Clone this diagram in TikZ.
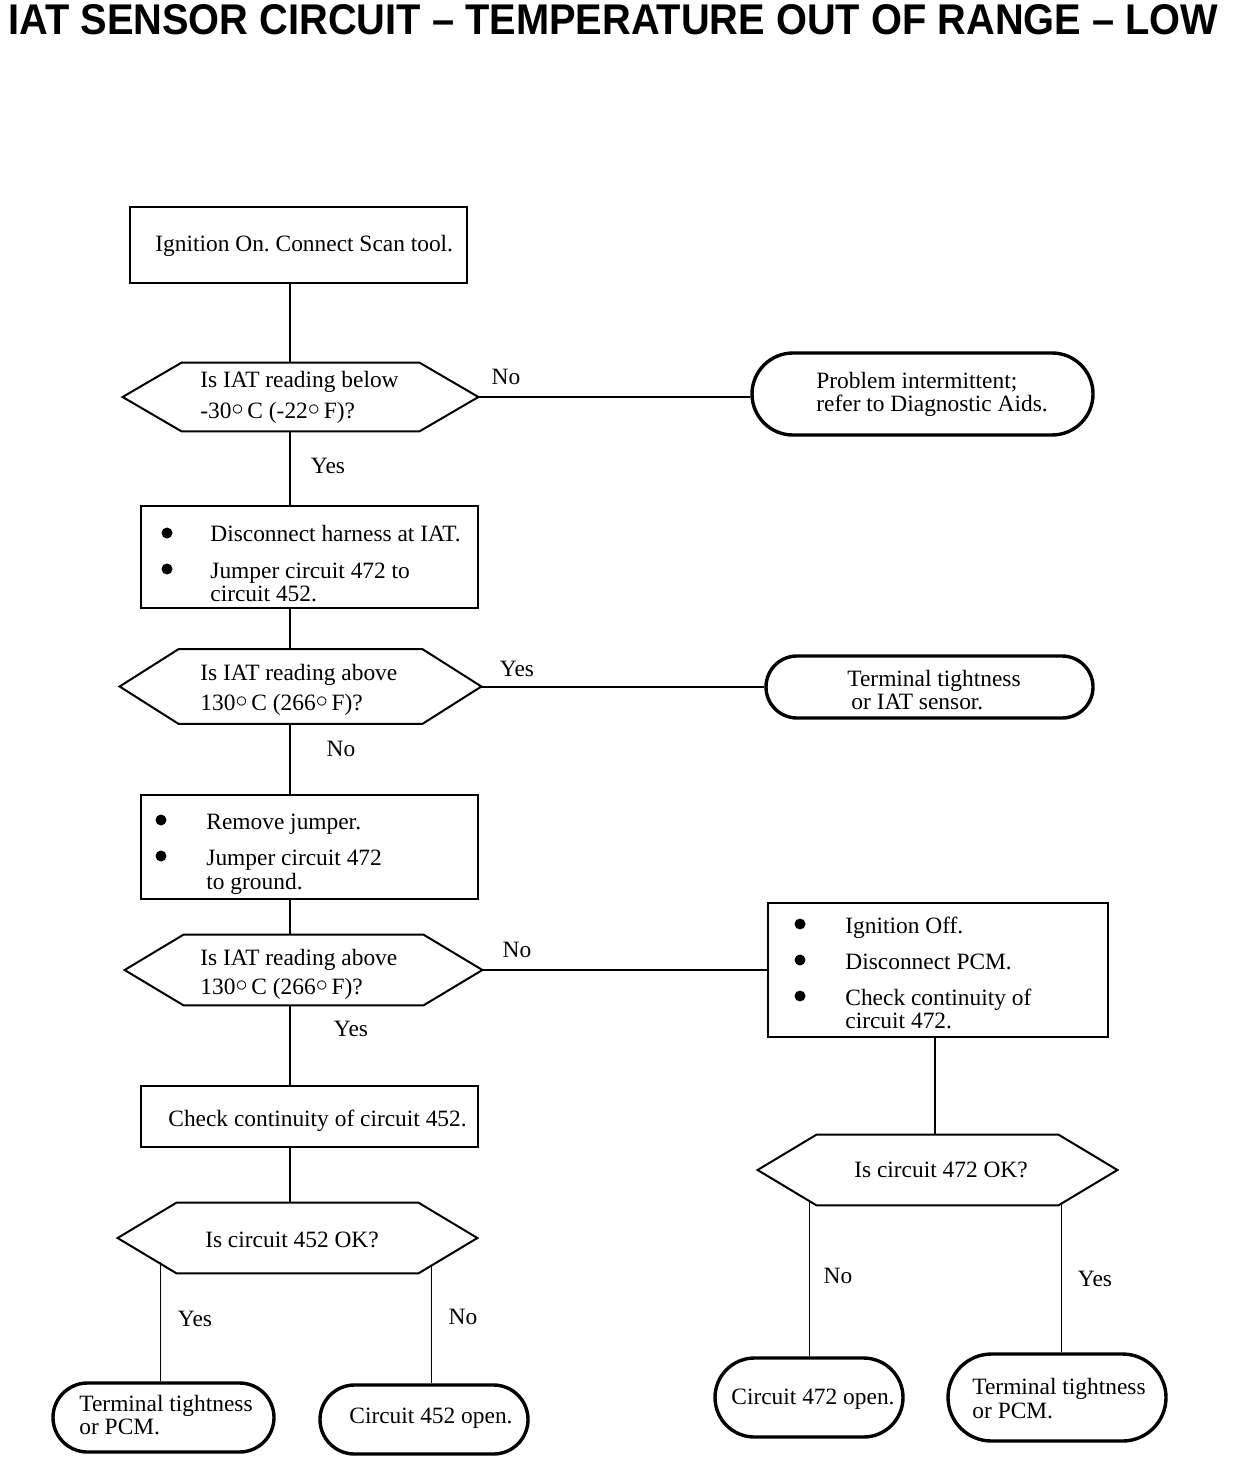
\documentclass[tikz,border=0pt]{standalone}
\usepackage{graphicx}
\usepackage{fontspec}
\setmainfont{Liberation Serif}
\newfontfamily\titlefont{Liberation Sans}
\usetikzlibrary{shapes.misc,calc}
\newcommand\dg{\raisebox{.2ex}{$\circ$}}
\tikzset{
  every node/.style={font=\fontsize{11.7}{14}\selectfont\frenchspacing},
  box/.style 2 args={draw, line width=1pt, rectangle, minimum width=#1*0.5pt, minimum height=#2*0.5pt, inner sep=0pt},
  hexa/.style 2 args={rectangle, minimum width=#1*0.5pt, minimum height=#2*0.5pt, inner sep=0pt},
  term/.style 2 args={rounded rectangle, draw, line width=1.7pt, minimum width=#1*0.5pt, minimum height=#2*0.5pt, inner sep=0pt},
  tx/.style={anchor=base west, inner sep=0pt, text height=8pt, text depth=2pt},
  lbl/.style={anchor=base, inner sep=0pt, text height=8pt, text depth=2pt},
  bul/.style={circle, fill, inner sep=0pt, minimum size=5.5pt},
  conn/.style={line width=1pt},
  branch/.style={line width=0.5pt},
  hexline/.style={line width=1pt, line join=miter}
}
\newcommand\hexdraw[1]{\draw[hexline] (#1.west) -- ([xshift=29.5pt]#1.north west) -- ([xshift=-29.5pt]#1.north east) -- (#1.east) -- ([xshift=-29.5pt]#1.south east) -- ([xshift=29.5pt]#1.south west) -- cycle;}
\begin{document}
\begin{tikzpicture}[x=0.5pt,y=-0.5pt]
\useasboundingbox[fill=white] (0,0) rectangle (1232,1460);
% title
\node[anchor=base west, inner sep=0pt] (title) at (8,35) {\resizebox{605pt}{15pt}{\titlefont\bfseries IAT SENSOR CIRCUIT – TEMPERATURE OUT OF RANGE – LOW}};
% box 1
\node[box={337}{76}] (b1) at (298.5,245) {};
\node[tx] (b1t) at (155,252) {Ignition On. Connect Scan tool.};
% hex 1
\node[hexa={355}{68}] (h1) at (300.5,397) {};
\hexdraw{h1}
\node[tx] (h1a) at (200,387) {Is IAT reading below};
\node[tx] (h1b) at (200,418) {-30\dg\,C (-22\dg\,F)?};
% terminal 1
\node[term={341}{82}] (t1) at (922.5,394) {};
\node[tx] (t1a) at (816,388) {Problem intermittent;};
\node[tx] (t1b) at (816,411) {refer to Diagnostic Aids.};
% box 2
\node[box={337}{102}] (b2) at (309.5,557) {};
\node[bul] (b2d1) at (167,533) {};
\node[bul] (b2d2) at (167,569) {};
\node[tx] (b2a) at (210,541) {Disconnect harness at IAT.};
\node[tx] (b2b) at (210,578) {Jumper circuit 472 to};
\node[tx] (b2c) at (210,601) {circuit 452.};
% hex 2
\node[hexa={361}{74}] (h2) at (300.5,686.5) {};
\hexdraw{h2}
\node[tx] (h2a) at (200,680) {Is IAT reading above};
\node[tx] (h2b) at (200,710) {130\dg\,C (266\dg\,F)?};
% terminal 2
\node[term={327}{62}] (t2) at (929.5,687) {};
\node[tx] (t2a) at (847,686) {Terminal tightness};
\node[tx] (t2b) at (851,709) {or IAT sensor.};
% box 3
\node[box={337}{104}] (b3) at (309.5,847) {};
\node[bul] (b3d1) at (161,820) {};
\node[bul] (b3d2) at (161,856) {};
\node[tx] (b3a) at (206,829) {Remove jumper.};
\node[tx] (b3b) at (206,865) {Jumper circuit 472};
\node[tx] (b3c) at (206,889) {to ground.};
% hex 3
\node[hexa={357}{70}] (h3) at (303.5,970) {};
\hexdraw{h3}
\node[tx] (h3a) at (200,965) {Is IAT reading above};
\node[tx] (h3b) at (200,994) {130\dg\,C (266\dg\,F)?};
% box 4
\node[box={340}{134}] (b4) at (938,970) {};
\node[bul] (b4d1) at (800,924) {};
\node[bul] (b4d2) at (800,960) {};
\node[bul] (b4d3) at (800,996) {};
\node[tx] (b4a) at (845,933) {Ignition Off.};
\node[tx] (b4b) at (845,969) {Disconnect PCM.};
\node[tx] (b4c) at (845,1005) {Check continuity of};
\node[tx] (b4e) at (845,1028) {circuit 472.};
% box 5
\node[box={337}{61}] (b5) at (309.5,1116.5) {};
\node[tx] (b5t) at (168,1126) {Check continuity of circuit 452.};
% hex 4
\node[hexa={359}{70}] (h4) at (297.5,1238) {};
\hexdraw{h4}
\node[lbl] (h4t) at (292,1247) {Is circuit 452 OK?};
% hex 5
\node[hexa={359}{70}] (h5) at (937.5,1170) {};
\hexdraw{h5}
\node[lbl] (h5t) at (941,1177) {Is circuit 472 OK?};
% terminals bottom
\node[term={221}{69}] (t3) at (163.5,1417.5) {};
\node[tx] (t3a) at (79,1411) {Terminal tightness};
\node[tx] (t3b) at (79,1434) {or PCM.};
\node[term={208}{69}] (t4) at (424,1419.5) {};
\node[tx] (t4a) at (349,1423) {Circuit 452 open.};
\node[term={188}{79}] (t5) at (809,1397.5) {};
\node[tx] (t5a) at (731,1404) {Circuit 472 open.};
\node[term={218}{87}] (t6) at (1057,1397.5) {};
\node[tx] (t6a) at (972,1394) {Terminal tightness};
\node[tx] (t6b) at (972,1418) {or PCM.};
% connectors
\coordinate (sp) at (290,0);
\draw[conn] (b1.south -| sp) -- (h1.north -| sp);
\draw[conn] (h1.south -| sp) -- (b2.north -| sp);
\draw[conn] (b2.south -| sp) -- (h2.north -| sp);
\draw[conn] (h2.south -| sp) -- (b3.north -| sp);
\draw[conn] (b3.south -| sp) -- (h3.north -| sp);
\draw[conn] (h3.south -| sp) -- (b5.north -| sp);
\draw[conn] (b5.south -| sp) -- (h4.north -| sp);
\draw[conn] (h1.east) -- (h1.east -| t1.west);
\draw[conn] (h2.east) -- (h2.east -| t2.west);
\draw[conn] (h3.east) -- (h3.east -| b4.west);
\coordinate (sp2) at (935,0);
\draw[conn] (b4.south -| sp2) -- (h5.north -| sp2);
\coordinate (h4l) at (160,1262);
\coordinate (h4r) at (431,1265);
\coordinate (h5l) at (809,1200);
\coordinate (h5r) at (1061,1203);
\draw[branch] (h4l) -- (h4l |- t3.north);
\draw[branch] (h4r) -- (h4r |- t4.north);
\draw[branch] (h5l) -- (h5l |- t5.north);
\draw[branch] (h5r) -- (h5r |- t6.north);
% labels
\node[lbl] (l1) at (506,385) {No};
\node[lbl] (l2) at (328,473) {Yes};
\node[lbl] (l3) at (517,676) {Yes};
\node[lbl] (l4) at (341,756) {No};
\node[lbl] (l5) at (517,957) {No};
\node[lbl] (l6) at (351,1036) {Yes};
\node[lbl] (l7) at (195,1326) {Yes};
\node[lbl] (l8) at (463,1324) {No};
\node[lbl] (l9) at (838,1283) {No};
\node[lbl] (l10) at (1095,1286) {Yes};
\end{tikzpicture}
\end{document}
